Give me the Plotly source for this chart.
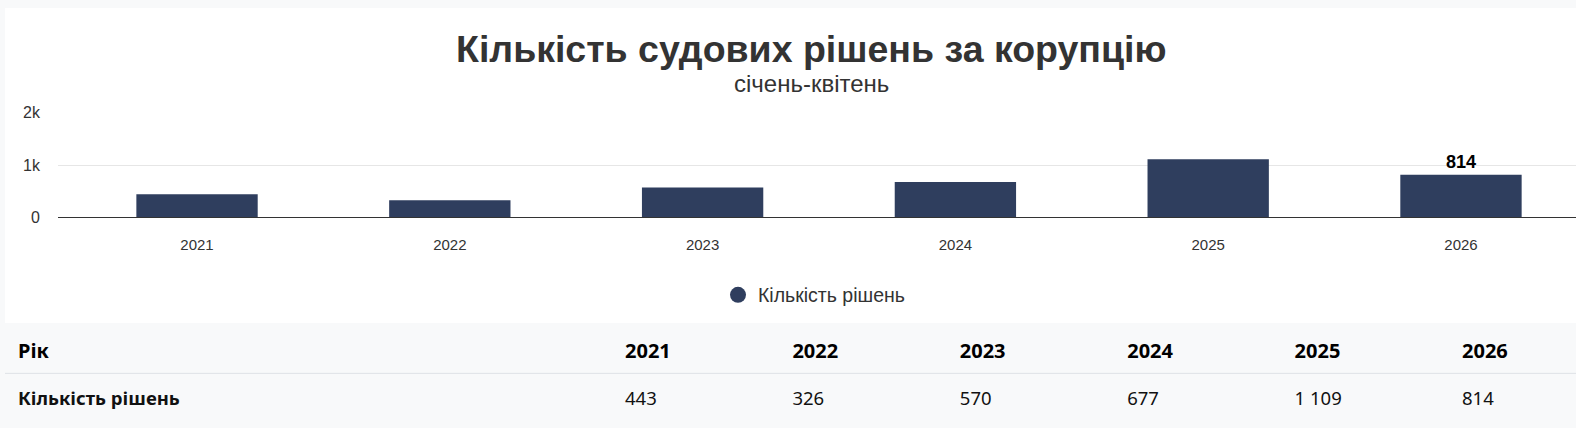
import plotly.graph_objects as go

# Data
years = ['2021', '2022', '2023', '2024', '2025', '2026']
decisions = [443, 326, 570, 677, 1109, 814]
series_name = 'Кількість рішень'
row_header = 'Рік'
title_text = 'Кількість судових рішень за корупцію'
subtitle_text = 'січень-квітень'

W, H = 1576, 428
bar_color = '#2f3e5e'
text_color = '#333333'


def px_x(p):
    return p / W


def px_y(p):
    # pixel from top of figure -> paper fraction
    return 1 - p / H


def fmt(v):
    return f'{v:,}'.replace(',', ' ')


# only the last bar carries a label
bar_labels = [''] * (len(decisions) - 1) + [str(decisions[-1])]

fig = go.Figure()

fig.add_trace(go.Bar(
    x=years,
    y=decisions,
    width=0.48,
    marker=dict(color=bar_color, line=dict(width=0)),
    text=bar_labels,
    textposition='outside',
    textfont=dict(family='Liberation Sans', size=18, color='#000000', weight='bold'),
    cliponaxis=False,
    showlegend=False,
    hoverinfo='x+y',
))

# legend entry with a round marker
fig.add_trace(go.Scatter(
    x=[None], y=[None],
    mode='markers',
    name=series_name,
    marker=dict(color=bar_color, size=17, symbol='circle'),
))

# table under the chart
header_vals = [row_header] + years
cell_vals = [[series_name]] + [[fmt(v)] for v in decisions]
n_cols = len(header_vals)

fig.add_trace(go.Table(
    domain=dict(x=[px_x(10), 1], y=[0, px_y(340.5)]),
    columnwidth=[607] + [167.4] * 5 + [122],
    header=dict(
        values=header_vals,
        align='left',
        height=48.5,
        fill_color='#f8f9fa',
        line_color='#f8f9fa',
        font=dict(family='Noto Sans', size=20, color='#000000', weight='bold'),
    ),
    cells=dict(
        values=cell_vals,
        align='left',
        height=48,
        fill_color='#f8f9fa',
        line_color='#f8f9fa',
        font=dict(family='Noto Sans', size=18.5, color='#111111',
                  weight=['bold'] + ['normal'] * (n_cols - 1)),
    ),
))

fig.update_layout(
    width=W,
    height=H,
    margin=dict(l=0, r=0, t=0, b=0),
    paper_bgcolor='#f8f9fa',
    plot_bgcolor='rgba(0,0,0,0)',
    font=dict(family='Liberation Sans', color=text_color),
    xaxis=dict(
        domain=[px_x(58), 1],
        type='category',
        range=[-0.55, 5.455],
        showgrid=False,
        showline=True,
        linecolor='#333333',
        linewidth=1,
        ticks='',
        ticklabelstandoff=14,
        tickfont=dict(size=15, color=text_color),
        fixedrange=True,
    ),
    yaxis=dict(
        domain=[px_y(218), px_y(109)],
        range=[0, 2000],
        tickvals=[0, 1000, 2000],
        ticktext=['0', '1k', '2k'],
        showgrid=True,
        gridcolor='#e6e6e6',
        zeroline=False,
        ticks='',
        ticklabelstandoff=17,
        tickfont=dict(size=16, color=text_color),
        fixedrange=True,
    ),
    legend=dict(
        orientation='h',
        x=px_x(814),
        xanchor='center',
        y=px_y(299),
        yanchor='middle',
        font=dict(family='Liberation Sans', size=19.5, color=text_color),
        bgcolor='rgba(0,0,0,0)',
    ),
    shapes=[
        # white chart card
        dict(type='rect', xref='paper', yref='paper',
             x0=px_x(5), x1=1, y0=px_y(328), y1=1,
             fillcolor='#ffffff', line=dict(width=0), layer='below'),
        # separator between table rows
        dict(type='line', xref='paper', yref='paper',
             x0=px_x(5), x1=1, y0=px_y(380.5), y1=px_y(380.5),
             line=dict(color='#dee2e6', width=1), layer='above'),
    ],
    annotations=[
        dict(text='<b>' + title_text + '</b>', xref='paper', yref='paper',
             x=px_x(811), y=px_y(43), xanchor='center', yanchor='middle',
             showarrow=False, font=dict(family='Liberation Sans', size=37.5, color=text_color)),
        dict(text=subtitle_text, xref='paper', yref='paper',
             x=px_x(811), y=px_y(78.5), xanchor='center', yanchor='middle',
             showarrow=False, font=dict(family='Liberation Sans', size=24, color=text_color)),
    ],
)

fig.write_html('out.html', config={'displayModeBar': False},
               post_script="document.body.style.margin='0';")
